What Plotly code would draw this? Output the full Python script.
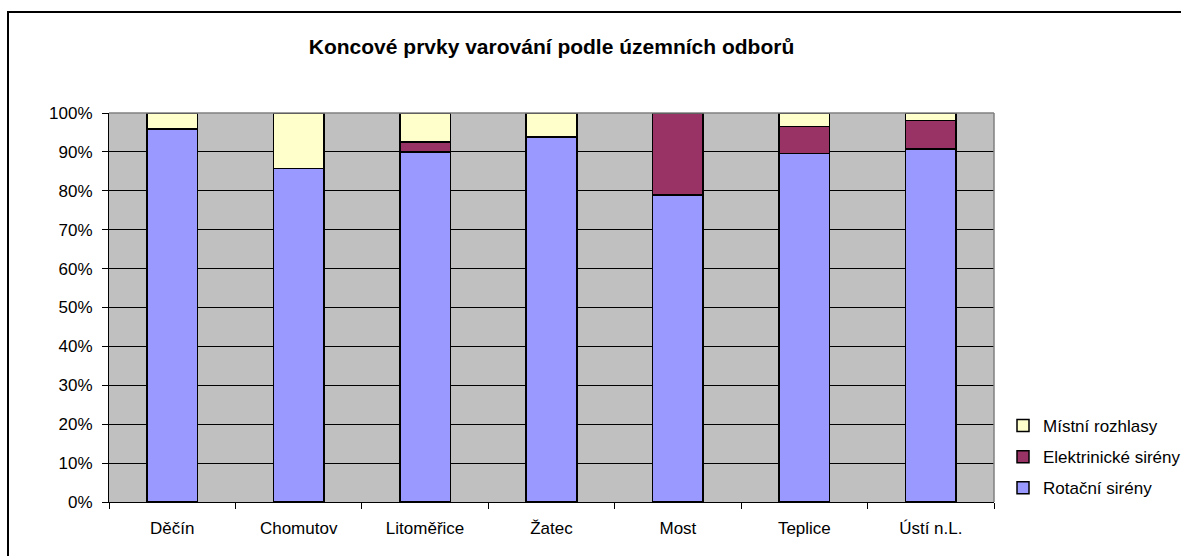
import plotly.graph_objects as go

categories = ["Děčín", "Chomutov", "Litoměřice", "Žatec", "Most", "Teplice", "Ústí n.L."]
rotacni = [95.9, 85.7, 90.0, 93.8, 78.9, 89.6, 90.8]
elektr = [0.0, 0.0, 2.5, 0.0, 21.1, 6.9, 7.3]
mistni = [4.1, 14.3, 7.5, 6.2, 0.0, 3.5, 1.9]
yticks = [0, 10, 20, 30, 40, 50, 60, 70, 80, 90, 100]

W, H = 1181, 556
L, R, T, B = 109, 994, 113, 502
FONT = "Arial, Liberation Sans, sans-serif"

def px2x(px):
    return (px - L) / (R - L)

def px2y(py):
    return (B - py) / (B - T)

fig = go.Figure()
series = [
    ("Rotační sirény", rotacni, "#9999FF", 3),
    ("Elektrinické sirény", elektr, "#993366", 2),
    ("Místní rozhlasy", mistni, "#FFFFCC", 1),
]
for name, vals, col, rank in series:
    fig.add_trace(go.Bar(
        x=categories, y=vals, name=name, width=0.4,
        marker=dict(color=col, line=dict(color="black", width=1.5)),
        legendgroup=name, legendrank=rank,
    ))

fig.update_layout(
    width=W, height=H,
    barmode="stack",
    paper_bgcolor="white",
    plot_bgcolor="#C0C0C0",
    margin=dict(l=L, r=W - R, t=T, b=H - B, autoexpand=False),
    font=dict(family=FONT, size=17, color="black"),
    title=dict(text="<b>Koncové prvky varování podle územních odborů</b>",
               x=0.5, xref="paper", y=1 - 47 / H, yanchor="middle",
               font=dict(size=21, family=FONT, color="black")),
    showlegend=True,
    legend=dict(x=px2x(1003), xanchor="left", y=px2y(408), yanchor="top",
                traceorder="grouped", tracegroupgap=6,
                font=dict(size=17, family=FONT), bgcolor="rgba(0,0,0,0)"),
    xaxis=dict(showgrid=False, showline=True, linecolor="black", linewidth=1,
               ticks="outside", ticklen=6, tickcolor="black", tickson="boundaries",
               tickfont=dict(size=17), ticklabelstandoff=11),
    yaxis=dict(range=[0, 100], tickvals=yticks, ticktext=[f"{v}%" for v in yticks],
               showgrid=True, gridcolor="black", gridwidth=1,
               showline=True, linecolor="black", linewidth=1,
               ticks="outside", ticklen=6, tickcolor="black",
               tickfont=dict(size=17), ticklabelstandoff=6, zeroline=False),
    shapes=[
        dict(type="line", xref="paper", yref="paper", x0=0, x1=1, y0=1, y1=1,
             line=dict(color="#808080", width=1.5)),
        dict(type="line", xref="paper", yref="paper", x0=1, x1=1, y0=0, y1=1,
             line=dict(color="#808080", width=1.5)),
        dict(type="rect", xref="paper", yref="paper",
             x0=px2x(8), x1=px2x(1200), y0=px2y(12), y1=px2y(580),
             line=dict(color="black", width=2), fillcolor="rgba(0,0,0,0)"),
    ],
)

fig.write_html("out.html", config={"displayModeBar": False},
               post_script="document.body.style.margin='0';document.body.style.padding='0';")
